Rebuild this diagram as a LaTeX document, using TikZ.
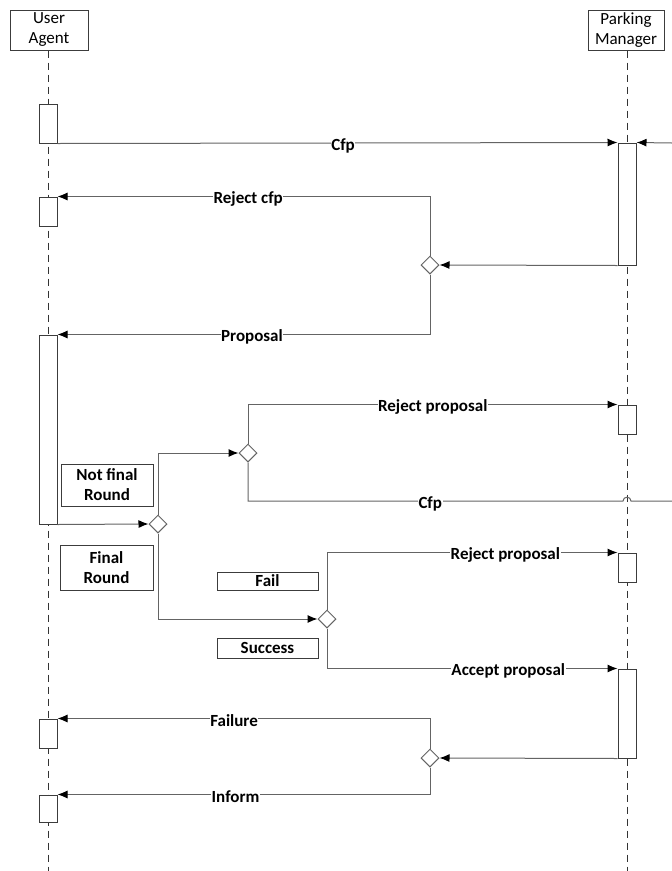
\documentclass[tikz,border=0pt]{standalone}
\usepackage{fontspec}
\setmainfont{Carlito}
\usetikzlibrary{arrows.meta,shapes.geometric}
\definecolor{linec}{RGB}{100,100,100}
\definecolor{boxc}{RGB}{60,60,60}
\begin{document}
\begin{tikzpicture}[x=1pt,y=-1pt,
  every node/.style={font=\fontsize{17}{20}\selectfont},
  header/.style={draw=boxc, line width=1pt, fill=white, minimum width=78pt, minimum height=40pt, inner sep=0pt, align=center},
  life/.style={draw=black!80, line width=1pt, dash pattern=on 7pt off 5pt},
  act/.style={draw=boxc, line width=1pt, fill=white, minimum width=18pt, inner sep=0pt},
  dec/.style={diamond, draw=linec, line width=1pt, fill=white, minimum size=18pt, inner sep=0pt},
  msg/.style={draw=linec, line width=1pt, -{Latex[color=black,length=10pt,width=8pt]}},
  plain/.style={draw=linec, line width=1pt},
  lbl/.style={fill=white, inner sep=0.5pt, yshift=-2.5pt, font=\bfseries\fontsize{17}{20}\selectfont},
  guard/.style={draw=boxc, line width=1pt, fill=white, inner sep=0pt, align=center, font=\bfseries\fontsize{17}{20}\selectfont}
]
\useasboundingbox (0,0) rectangle (672,871);
\fill[white] (0,0) rectangle (672,871);

% headers
\node[header] (ua) at (49,30) {User\\Agent};
\node[header, minimum width=76pt] (pm) at (626,30) {Parking\\Manager};
\coordinate (uaend) at (48,871);
\coordinate (pmend) at (627,871);
\draw[life] (ua.south -| uaend) -- (uaend);
\draw[life] (pm.south -| pmend) -- (pmend);

% activations, User Agent
\node[act, minimum height=39pt] (ua1) at (48,123.5) {};
\node[act, minimum height=29pt] (ua2) at (48,211.5) {};
\node[act, minimum height=189pt] (ua3) at (48,429.5) {};
\node[act, minimum height=29pt] (ua4) at (48,733.5) {};
\node[act, minimum height=27pt] (ua5) at (48,808.5) {};

% activations, Parking Manager
\node[act, minimum height=122pt] (pm1) at (627,204) {};
\node[act, minimum height=29pt] (pm2) at (627,419.5) {};
\node[act, minimum height=29pt] (pm3) at (627,567.5) {};
\node[act, minimum height=89pt] (pm4) at (627,713.5) {};

% decisions
\node[dec] (d1) at (430,265) {};
\node[dec] (d2) at (158,524) {};
\node[dec] (d3) at (248,453) {};
\node[dec] (d4) at (327,619) {};
\node[dec] (d5) at (430,758) {};

% guard boxes
\node[guard, minimum width=92pt, minimum height=42pt] (g1) at (107,485) {Not final\\Round};
\node[guard, minimum width=93pt, minimum height=45pt] (g2) at (106.5,567.5) {Final\\Round};
\node[guard, minimum width=101pt, minimum height=18pt] (g3) at (267.5,581) {Fail};
\node[guard, minimum width=101pt, minimum height=20pt] (g4) at (267.5,648) {Success};

% messages
\coordinate (rin) at (672,143);
\draw[msg] (ua1.south east) -- node[lbl, pos=0.51] {Cfp} (pm1.north west);
\draw[msg] (rin) -- (pm1.north east);
\draw[msg] (pm1.south west) -- (d1.east);
\draw[msg] (d1.north) |- node[lbl, pos=0.744] {Reject cfp} (ua2.north east);
\draw[msg] (d1.south) |- node[lbl, pos=0.739] {Proposal} (ua3.north east);
\draw[msg] (ua3.south east) -- (d2.west);
\draw[msg] (d2.north) |- (d3.west);
\draw[msg] (d3.north) |- node[lbl, pos=0.75] {Reject proposal} (pm2.north west);
\coordinate (j1) at (623,501);
\coordinate (j2) at (631,501);
\coordinate (rout) at (672,501);
\draw[plain] (d3.south) |- node[lbl, pos=0.743] {Cfp} (j1)
  .. controls (623,496) and (631,496) .. (j2) -- (rout);
\draw[msg] (d2.south) |- (d4.west);
\draw[msg] (d4.north) |- node[lbl, pos=0.807] {Reject proposal} (pm3.north west);
\draw[msg] (d4.south) |- node[lbl, pos=0.812] {Accept proposal} (pm4.north west);
\draw[msg] (pm4.south west) -- (d5.east);
\draw[msg] (d5.north) |- node[lbl, pos=0.763] {Failure} (ua4.north east);
\draw[msg] (d5.south) |- node[lbl, pos=0.761] {Inform} (ua5.north east);
\end{tikzpicture}
\end{document}
